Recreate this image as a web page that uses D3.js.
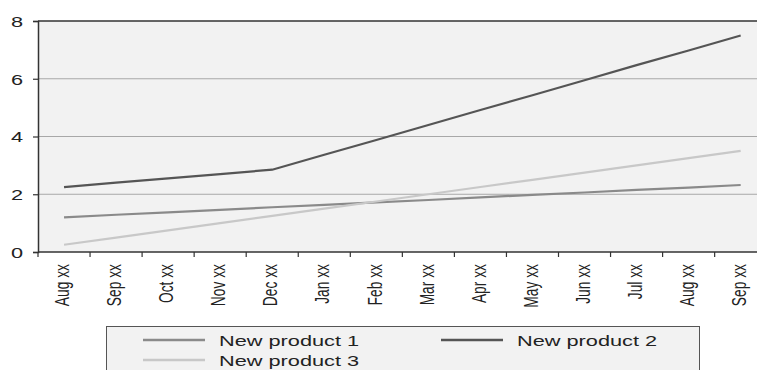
<!DOCTYPE html>
<html>
<head>
<meta charset="utf-8">
<script src="https://cdn.jsdelivr.net/npm/d3@7"></script>
<style>
  html, body { margin: 0; padding: 0; background: #fff; }
  svg { display: block; }
  text { font-family: "Liberation Sans", Arial, sans-serif; fill: #222; }
</style>
</head>
<body>
<svg id="chart" width="757" height="370"></svg>
<script>
// Monthly categories along the x axis
const months = ["Aug xx", "Sep xx", "Oct xx", "Nov xx", "Dec xx", "Jan xx", "Feb xx",
                "Mar xx", "Apr xx", "May xx", "Jun xx", "Jul xx", "Aug xx", "Sep xx"];

// Series values
const product1 = [1.2, 1.29, 1.37, 1.46, 1.55, 1.63, 1.72, 1.8, 1.89, 1.98, 2.06, 2.15, 2.23, 2.32];
const product2 = [2.25, 2.4, 2.55, 2.7, 2.85, 3.37, 3.88, 4.4, 4.92, 5.43, 5.95, 6.47, 6.98, 7.5];
const product3 = [0.25, 0.5, 0.75, 1.0, 1.25, 1.5, 1.75, 2.0, 2.25, 2.5, 2.75, 3.0, 3.25, 3.5];

const seriesNames = ["New product 1", "New product 2", "New product 3"];
const yTicks = [0, 2, 4, 6, 8];

const series = [
  { name: seriesNames[0], values: product1, color: "#8a8a8a" },
  { name: seriesNames[1], values: product2, color: "#555555" },
  { name: seriesNames[2], values: product3, color: "#c8c8c8" }
];

const svg = d3.select("#chart");
const plotLeft = 38, plotTop = 21, plotBottom = 252;
const bandW = 52.05;
const plotRight = plotLeft + bandW * months.length;
const stretch = 1.45; // horizontally widened lettering

const idx = d3.range(months.length);
const x = d3.scaleBand().domain(idx).range([plotLeft, plotRight]).paddingInner(0).paddingOuter(0);
const y = d3.scaleLinear().domain([0, 8]).range([plotBottom, plotTop]);

// Plot background
svg.append("rect")
  .attr("x", plotLeft).attr("y", plotTop)
  .attr("width", plotRight - plotLeft).attr("height", plotBottom - plotTop)
  .attr("fill", "#f2f2f2");

// Horizontal gridlines
svg.append("g").selectAll("line")
  .data(yTicks.filter(d => d > 0 && d < 8))
  .join("line")
  .attr("x1", plotLeft).attr("x2", plotRight)
  .attr("y1", d => y(d)).attr("y2", d => y(d))
  .attr("stroke", "#a8a8a8").attr("stroke-width", 1);

// Top border
svg.append("line")
  .attr("x1", plotLeft).attr("x2", plotRight)
  .attr("y1", y(8)).attr("y2", y(8))
  .attr("stroke", "#333").attr("stroke-width", 1.5);

// Y axis
const yAxis = svg.append("g")
  .attr("transform", `translate(${plotLeft},0)`)
  .call(d3.axisLeft(y).tickValues(yTicks).tickSize(5).tickFormat(d3.format("d")));
yAxis.select(".domain").attr("stroke", "#333").attr("stroke-width", 1.5);
yAxis.selectAll(".tick line").attr("stroke", "#333").attr("stroke-width", 1.2);
yAxis.selectAll(".tick text")
  .attr("x", 0)
  .attr("dy", "0.36em")
  .attr("transform", `translate(-15,0) scale(${stretch},1)`)
  .style("font-size", "15px").style("font-family", "'Liberation Sans', Arial, sans-serif")
  .attr("fill", "#333");

// X axis: ticks at band boundaries
const xAxisG = svg.append("g");
xAxisG.append("line")
  .attr("x1", plotLeft).attr("x2", plotRight)
  .attr("y1", plotBottom).attr("y2", plotBottom)
  .attr("stroke", "#333").attr("stroke-width", 1.5);
xAxisG.selectAll("line.tk")
  .data(idx)
  .join("line").attr("class", "tk")
  .attr("x1", d => x(d)).attr("x2", d => x(d))
  .attr("y1", plotBottom).attr("y2", plotBottom + 5)
  .attr("stroke", "#333").attr("stroke-width", 1.2);
xAxisG.selectAll("text")
  .data(idx)
  .join("text")
  .attr("transform", d => `translate(${x(d) + x.bandwidth() / 2 - 2},${plotBottom + 12}) scale(${stretch},1) rotate(-90)`)
  .attr("text-anchor", "end")
  .attr("dy", "0.36em")
  .style("font-size", "13.8px")
  .attr("fill", "#222")
  .text(d => months[d]);

// Lines
const line = d3.line()
  .x((d, i) => x(i) + x.bandwidth() / 2)
  .y(d => y(d));

svg.append("g").selectAll("path")
  .data(series)
  .join("path")
  .attr("d", d => line(d.values))
  .attr("fill", "none")
  .attr("stroke", d => d.color)
  .attr("stroke-width", 2.2);

// Legend
const lg = svg.append("g");
lg.append("rect")
  .attr("x", 106.5).attr("y", 326.5)
  .attr("width", 593).attr("height", 60)
  .attr("fill", "#f2f2f2").attr("stroke", "#555").attr("stroke-width", 1);

const legendPos = [
  { lx: 143, ty: 340 },
  { lx: 441, ty: 340 },
  { lx: 143, ty: 360 }
];
series.forEach((s, i) => {
  const p = legendPos[i];
  lg.append("line")
    .attr("x1", p.lx).attr("x2", p.lx + 62)
    .attr("y1", p.ty).attr("y2", p.ty)
    .attr("stroke", s.color).attr("stroke-width", 2.6);
  lg.append("text")
    .attr("transform", `translate(${p.lx + 76},${p.ty + 5.5}) scale(${stretch},1)`)
    .style("font-size", "15px")
    .attr("fill", "#222")
    .text(s.name);
});
</script>
</body>
</html>
